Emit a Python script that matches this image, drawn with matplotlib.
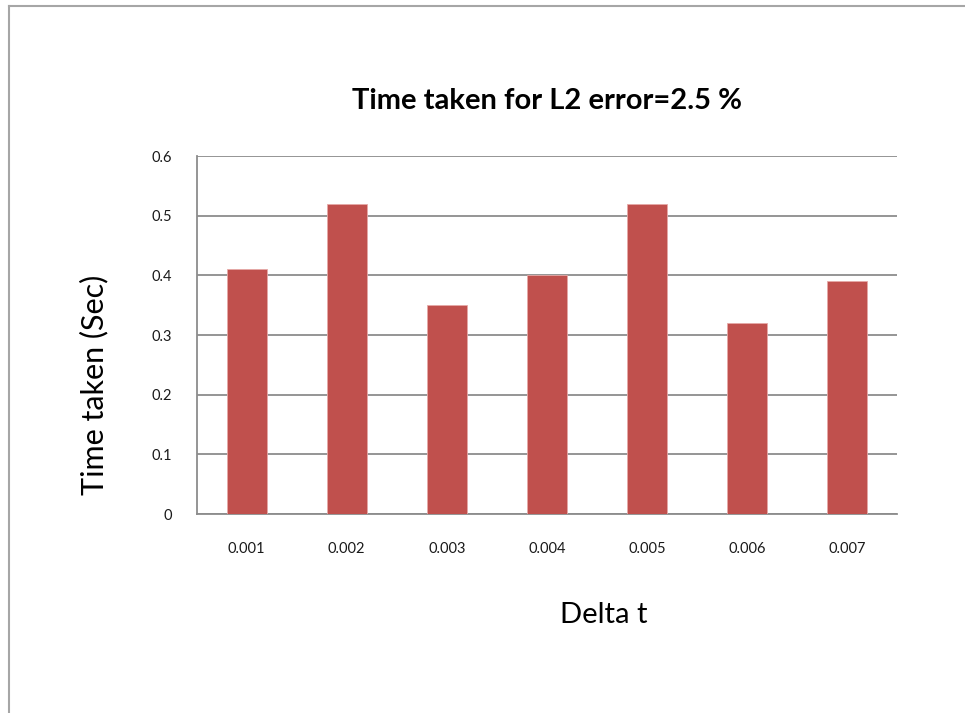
import matplotlib.pyplot as plt
from matplotlib.lines import Line2D

# time taken for each time step size
delta_t = ['0.001', '0.002', '0.003', '0.004', '0.005', '0.006', '0.007']
time_taken = [0.41, 0.52, 0.35, 0.40, 0.52, 0.32, 0.39]
y_ticks = [0, 0.1, 0.2, 0.3, 0.4, 0.5, 0.6]

plt.rcParams['font.family'] = ['Lato', 'DejaVu Sans']

fig = plt.figure(figsize=(9.65, 7.13), dpi=100)
ax = fig.add_axes([0.2038, 0.2791, 0.7257, 0.5021])

ax.bar(range(len(delta_t)), time_taken, width=0.4, color='#C0504D',
       edgecolor='#E6A9A7', linewidth=0.6, zorder=3)

ax.set_xlim(-0.5, len(delta_t) - 0.5)
ax.set_ylim(0, 0.6)
ax.set_yticks(y_ticks)
ax.set_yticklabels(['0', '0.1', '0.2', '0.3', '0.4', '0.5', '0.6'])
ax.set_xticks(range(len(delta_t)))
ax.set_xticklabels(delta_t)
ax.tick_params(axis='y', length=0, pad=18, labelsize=10.5, labelcolor='#1a1a1a')
ax.tick_params(axis='x', length=0, pad=20, labelsize=10.5, labelcolor='#1a1a1a')

ax.grid(axis='y', color='#8C8C8C', linewidth=1.3, zorder=0)
for side in ['top', 'right']:
    ax.spines[side].set_visible(False)
for side in ['left', 'bottom']:
    ax.spines[side].set_color('#8C8C8C')
    ax.spines[side].set_linewidth(1.3)

fig.text(0.567, 0.859, 'Time taken for L2 error=2.5 %', ha='center', va='center',
         fontsize=21, fontweight='bold')
fig.text(0.626, 0.138, 'Delta t', ha='center', va='center', fontsize=21)
fig.text(0.098, 0.46, 'Time taken (Sec)', ha='center', va='center',
         rotation=90, fontsize=22)

# chart frame, cut off at the right and bottom
fig.add_artist(Line2D([8.5 / 965, 8.5 / 965], [0, 1 - 5.5 / 713],
                      transform=fig.transFigure, color='#A6A6A6', linewidth=1.5))
fig.add_artist(Line2D([8.5 / 965, 1], [1 - 5.5 / 713, 1 - 5.5 / 713],
                      transform=fig.transFigure, color='#A6A6A6', linewidth=1.5))

fig.savefig('out.png', dpi=100)
